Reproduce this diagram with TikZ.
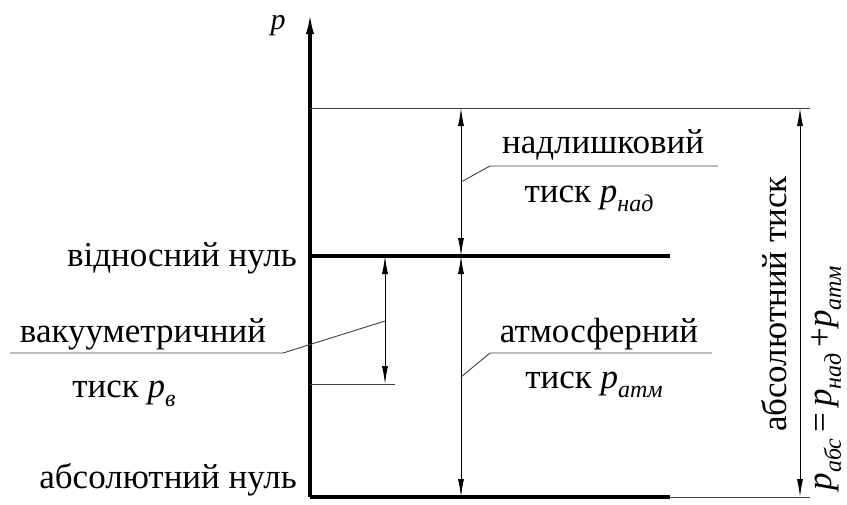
\documentclass[tikz,border=0pt]{standalone}
\usepackage{fontspec}
\setmainfont{Liberation Serif}
\newfontfamily\tnr{Liberation Serif}
\usetikzlibrary{arrows.meta}
\newcommand\psub[1]{{\tnr\itshape p}\raisebox{-0.28em}{\tnr\fontsize{24}{24}\selectfont\itshape #1}}
\tikzset{
  thickline/.style={line width=3.2pt, black},
  thinline/.style={line width=0.9pt, black!75},
  dimarrow/.style={thinline, black, {Latex[length=18pt,width=6pt]}-{Latex[length=18pt,width=6pt]}},
  lbl/.style={inner sep=0pt, font=\tnr\fontsize{35}{40}\selectfont},
}
\begin{document}
\begin{tikzpicture}[x=1pt,y=-1pt]
\useasboundingbox (0,0) rectangle (847,504);
% key coordinates
\coordinate (O) at (310,497);
\coordinate (Otop) at (310,12);
\coordinate (R) at (310,256);
\coordinate (Rend) at (670,256);
\coordinate (Oend) at (670,497);
\coordinate (Oext) at (810,497);
\coordinate (T) at (310,108);
\coordinate (Text) at (810,108);
\coordinate (V) at (310,384);
\coordinate (Vext) at (395,384);
% middle arrow points
\coordinate (m1) at (461,108);
\coordinate (m2) at (461,256);
\coordinate (m3) at (461,497);
% vacuum arrow
\coordinate (v1) at (385,256);
\coordinate (v2) at (385,384);
% right arrow
\coordinate (r1) at (800,108);
\coordinate (r2) at (800,497);
% axis
\draw[thickline, -{Latex[length=22pt,width=8pt]}] (O) -- (Otop);
\draw[thickline] (R) -- (Rend);
\draw[thickline] (O) -- (Oend);
\draw[thinline] (Oend) -- (Oext);
\draw[thinline] (T) -- (Text);
\draw[thinline] (V) -- (Vext);
% dimension arrows
\draw[dimarrow] (m1) -- (m2);
\draw[dimarrow] (m2) -- (m3);
\draw[dimarrow] (v1) -- (v2);
\draw[dimarrow] (r1) -- (r2);
% leaders
\coordinate (a1) at (461,182);
\coordinate (a2) at (490,166);
\coordinate (a3) at (718,166);
\draw[thinline] (a1) -- (a2) -- (a3);
\coordinate (b1) at (461,377);
\coordinate (b2) at (490,353);
\coordinate (b3) at (712,353);
\draw[thinline] (b1) -- (b2) -- (b3);
\coordinate (c1) at (385,321);
\coordinate (c2) at (283,353);
\coordinate (c3) at (10,353);
\draw[thinline] (c1) -- (c2) -- (c3);
% labels
\node[lbl, anchor=base, font=\tnr\fontsize{30}{34}\selectfont] (p) at (278,29) {\itshape p};
\node[lbl, anchor=base east] (rel) at (297,266) {відносний нуль};
\node[lbl, anchor=base east] (abs) at (297,488) {абсолютний нуль};
\node[lbl, anchor=base] (vak1) at (143,342) {вакууметричний};
\node[lbl, anchor=base] (vak2) at (124,397) {тиск \psub{в}};
\node[lbl, anchor=base] (nad1) at (603,153) {надлишковий};
\node[lbl, anchor=base] (nad2) at (589,202) {тиск \psub{над}};
\node[lbl, anchor=base] (atm1) at (599,342) {атмосферний};
\node[lbl, anchor=base] (atm2) at (594,388) {тиск \psub{атм}};
\node[lbl, anchor=base, rotate=90] (abst) at (786,304) {абсолютний тиск};
\node[lbl, anchor=base, rotate=90] (form) at (831,378) {\psub{абс}\,=\,\psub{над}\,+\psub{атм}};
\end{tikzpicture}
\end{document}
